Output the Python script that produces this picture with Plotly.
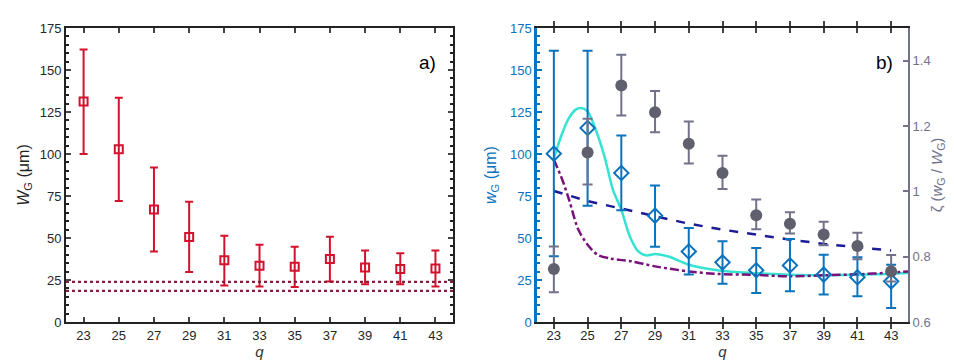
"""Two-panel beam-size plot: a) W_G vs harmonic order, b) w_G, model curves and zeta."""

import plotly.graph_objects as go

# ---- data ------------------------------------------------------------------
q = [23, 25, 27, 29, 31, 33, 35, 37, 39, 41, 43]

# panel a
W_G = [131.2, 102.9, 67.0, 50.6, 36.7, 33.5, 32.9, 37.5, 32.5, 31.5, 31.9]
W_G_hi = [162.2, 133.5, 91.9, 71.6, 51.4, 46.0, 44.8, 50.8, 42.5, 40.9, 42.5]
W_G_lo = [100.0, 72.0, 42.0, 29.7, 21.7, 21.1, 20.9, 24.1, 22.5, 22.5, 21.1]
limits = [23.9, 18.5]

# panel b, left axis
w_G = [100.2, 115.5, 88.7, 63.3, 42.0, 35.5, 30.8, 33.7, 28.2, 26.6, 24.2]
w_G_hi = [161.5, 161.5, 111.0, 81.3, 56.0, 48.0, 44.0, 49.4, 40.1, 38.5, 34.1]
w_G_lo = [39.1, 69.2, 66.5, 44.8, 28.2, 22.8, 17.3, 18.3, 16.3, 15.3, 8.3]

trend = [78.0, 72.0, 67.5, 63.0, 58.5, 55.0, 52.0, 49.0, 46.5, 44.5, 42.5]

q_cyan = [23, 23.5, 23.9, 24.3, 24.6, 25, 25.5, 26, 26.5, 27, 27.5, 28, 28.5,
          29, 29.8, 31, 32.5, 34, 36, 38, 40, 42, 44]
cyan = [97.6, 112.5, 121.5, 126.4, 127.4, 125.4, 114.0, 98.6, 78.8, 66.8, 51.0,
        42.0, 39.6, 40.5, 39.0, 34.1, 31.1, 29.6, 28.6, 27.9, 28.0, 28.4, 29.2]

q_purple = [23, 23.5, 23.9, 24.45, 25, 25.6, 26.4, 27.6, 29, 31, 32.5, 35, 37,
            39, 41, 43, 44]
purple = [96.6, 84.7, 72.8, 55.0, 46.0, 40.0, 37.7, 36.1, 33.1, 30.1, 28.7, 28.0,
          27.2, 27.8, 28.4, 29.4, 30.1]

# panel b, right axis
zeta = [0.762, 1.119, 1.324, 1.242, 1.146, 1.056, 0.927, 0.901, 0.868, 0.833, 0.755]
zeta_hi = [0.831, 1.222, 1.418, 1.307, 1.214, 1.109, 0.975, 0.936, 0.907, 0.873, 0.805]
zeta_lo = [0.691, 1.021, 1.232, 1.181, 1.085, 1.007, 0.884, 0.871, 0.835, 0.792, 0.724]

x_ticks = q
y_ticks = [0, 25, 50, 75, 100, 125, 150, 175]

# ---- styles ----------------------------------------------------------------
RED = "#d3122d"
MAROON = "#8c1a3c"
BLUE = "#0b72bd"
GRAY = "#5f5f6d"
GRAY_BAR = "#72728a"
CYAN = "#36e3d3"
NAVY = "#1c1c96"
PURPLE = "#7a117a"
FONT = "Liberation Sans, Arial, sans-serif"


def err(vals, hi, lo, color, width):
    return dict(
        type="data",
        symmetric=False,
        array=[h - v for v, h in zip(vals, hi)],
        arrayminus=[v - l for v, l in zip(vals, lo)],
        color=color,
        thickness=2,
        width=width,
    )


fig = go.Figure()

# panel a
fig.add_trace(go.Scatter(
    x=q, y=W_G, mode="markers", xaxis="x", yaxis="y",
    marker=dict(symbol="square-open", size=8, color=RED, line=dict(width=2, color=RED)),
    error_y=err(W_G, W_G_hi, W_G_lo, RED, 4),
))
for y0 in limits:
    fig.add_hline(y=y0, xref="x", yref="y", line=dict(color=MAROON, width=2.2, dash="dot"))

# panel b
fig.add_trace(go.Scatter(
    x=q, y=trend, mode="lines", xaxis="x2", yaxis="y2",
    line=dict(color=NAVY, width=2.5, dash="dash"),
))
fig.add_trace(go.Scatter(
    x=q_cyan, y=cyan, mode="lines", xaxis="x2", yaxis="y2",
    line=dict(color=CYAN, width=2.5, shape="spline", smoothing=0.8),
))
fig.add_trace(go.Scatter(
    x=q_purple, y=purple, mode="lines", xaxis="x2", yaxis="y2",
    line=dict(color=PURPLE, width=2.5, dash="dashdot", shape="spline", smoothing=0.8),
))
fig.add_trace(go.Scatter(
    x=q, y=w_G, mode="markers", xaxis="x2", yaxis="y2",
    marker=dict(symbol="diamond-open", size=11, color=BLUE, line=dict(width=2, color=BLUE)),
    error_y=err(w_G, w_G_hi, w_G_lo, BLUE, 5),
))
fig.add_trace(go.Scatter(
    x=q, y=zeta, mode="markers", xaxis="x2", yaxis="y3",
    marker=dict(symbol="circle", size=12, color=GRAY),
    error_y=err(zeta, zeta_hi, zeta_lo, GRAY_BAR, 5),
))

tickfont = dict(family=FONT, size=13, color="#262626")
xcommon = dict(
    range=[22, 44], tickvals=x_ticks, ticks="inside", ticklen=5, tickwidth=1.5,
    showline=True, linewidth=2, linecolor="#222", mirror="allticks",
    showgrid=False, zeroline=False, tickfont=tickfont, automargin=False,
    title=dict(text="<i>q</i>", font=dict(family=FONT, size=15, color="#333"), standoff=0),
)

# the page body adds an 8 px offset, so the plot is laid out 8 px up and left
fig.update_layout(
    width=954, height=362,
    margin=dict(l=0, r=0, t=20, b=48, autoexpand=False),
    paper_bgcolor="white", plot_bgcolor="white",
    showlegend=False,
    font=dict(family=FONT),
    xaxis=dict(domain=[0.0608, 0.4665], anchor="y", **xcommon),
    yaxis=dict(
        domain=[0, 1], anchor="x", range=[0, 175], tickvals=y_ticks,
        ticks="inside", ticklen=5, tickwidth=1.5, automargin=False,
        minor=dict(dtick=5, ticks="inside", ticklen=3, tickcolor="#222"),
        showline=True, linewidth=2, linecolor="#222", mirror="allticks",
        showgrid=False, zeroline=False, tickfont=tickfont,
        title=dict(text="<i>W</i><sub>G</sub> (μm)",
                   font=dict(family=FONT, size=16, color="#222"), standoff=6),
    ),
    xaxis2=dict(domain=[0.5545, 0.9434], anchor="y2", **xcommon),
    yaxis2=dict(
        domain=[0, 1], anchor="x2", range=[0, 175], tickvals=y_ticks,
        ticks="inside", ticklen=5, tickwidth=1.5, tickcolor=BLUE, automargin=False,
        minor=dict(dtick=5, ticks="inside", ticklen=3, tickcolor=BLUE),
        showline=True, linewidth=2.5, linecolor=BLUE,
        showgrid=False, zeroline=False,
        tickfont=dict(family=FONT, size=13, color=BLUE),
        title=dict(text="<i>w</i><sub>G</sub> (μm)",
                   font=dict(family=FONT, size=16, color=BLUE), standoff=10),
    ),
    yaxis3=dict(
        overlaying="y2", side="right", anchor="x2", range=[0.6, 1.5],
        tickvals=[0.6, 0.8, 1.0, 1.2, 1.4], automargin=False,
        ticks="inside", ticklen=5, tickwidth=1.5, tickcolor=GRAY_BAR,
        showline=True, linewidth=2, linecolor=GRAY_BAR,
        showgrid=False, zeroline=False,
        tickfont=dict(family=FONT, size=13, color=GRAY_BAR),
        title=dict(text="ζ (<i>w</i><sub>G</sub> / <i>W</i><sub>G</sub>)",
                   font=dict(family=FONT, size=15, color=GRAY_BAR), standoff=2),
    ),
    annotations=[
        dict(text="a)", x=0.4507, y=0.925, xref="paper", yref="paper", showarrow=False,
             font=dict(family=FONT, size=19, color="black"), xanchor="right"),
        dict(text="b)", x=0.9298, y=0.925, xref="paper", yref="paper", showarrow=False,
             font=dict(family=FONT, size=19, color="black"), xanchor="right"),
    ],
)

fig.write_html("out.html")
